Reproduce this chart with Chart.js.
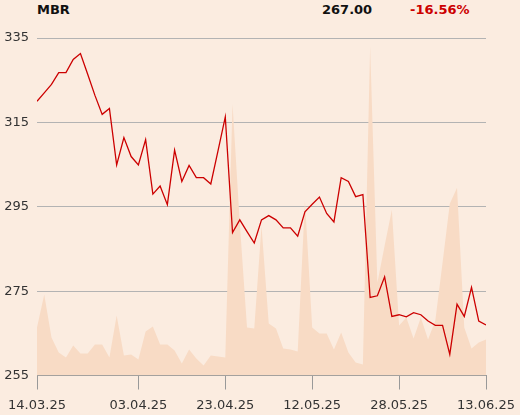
<!DOCTYPE html>
<html>
<head>
<meta charset="utf-8">
<script src="https://cdn.jsdelivr.net/npm/chart.js@4/dist/chart.umd.min.js"></script>
<style>
  html, body { margin: 0; padding: 0; background: #fbece0; }
  #wrap { position: relative; width: 520px; height: 415px; overflow: hidden; }
  .hdr { position: absolute; top: 2px; font: bold 13px "DejaVu Sans", sans-serif; color: #111; white-space: nowrap; }
  #name { left: 37px; }
  #last { left: 322px; }
  #chg { left: 410px; color: #cc0000; }
  canvas { position: absolute; left: 0; top: 0; }
</style>
</head>
<body>
<div id="wrap">
  <div class="hdr" id="name">MBR</div>
  <div class="hdr" id="last">267.00</div>
  <div class="hdr" id="chg">-16.56%</div>
  <canvas id="chart" width="520" height="415"></canvas>
</div>
<script>
// Trading days 14.03.25 .. 13.06.25 (index 0..62)
const tickIndex = [0, 14, 26, 38, 50, 62];
const tickLabels = ['14.03.25', '03.04.25', '23.04.25', '12.05.25', '28.05.25', '13.06.25'];

const priceTicks = [255, 275, 295, 315, 335];

// closing price
const price = [
    320.0, 322.0, 324.0, 326.8, 326.8, 329.9, 331.3, 326.4, 321.4, 316.9,
    318.3, 304.9, 311.4, 306.9, 304.9, 310.9, 298.0, 299.9, 295.5, 308.4,
    301.0, 304.8, 301.9, 301.9, 300.4, 308.3, 316.3, 288.9, 291.9, 289.1,
    286.4, 291.9, 292.9, 291.9, 290.0, 290.0, 288.0, 293.8, 295.6, 297.3,
    293.4, 291.4, 301.9, 301.0, 297.4, 297.9, 273.5, 273.9, 278.4, 269.0,
    269.4, 268.9, 269.9, 269.4, 267.9, 266.9, 266.9, 260.0, 271.9, 269.0,
    275.9, 267.9, 267.0
];

// traded volume (relative units)
const volume = [
    48, 81, 38, 23, 18, 30, 22, 22, 31, 31,
    18, 60, 20, 21, 16, 44, 49, 31, 31, 25,
    12, 26, 17, 10, 20, 19, 18, 272, 153, 48,
    47, 150, 52, 47, 27, 26, 24, 175, 48, 42,
    42, 26, 43, 23, 13, 11, 330, 93, 130, 166,
    50, 58, 37, 58, 36, 55, 113, 172, 188, 48,
    27, 33, 36
];
const volumeMax = 338;

const ctx = document.getElementById('chart');
const font = { family: '"DejaVu Sans", sans-serif', size: 13 };

new Chart(ctx, {
    type: 'line',
    data: {
        datasets: [
            {
                label: 'MBR',
                data: price.map((v, i) => ({ x: i, y: v })),
                borderColor: '#cc0000',
                borderWidth: 1.3,
                pointRadius: 0,
                tension: 0,
                yAxisID: 'y',
                order: 0
            },
            {
                label: 'Volume',
                data: volume.map((v, i) => ({ x: i, y: v })),
                backgroundColor: '#f8dbc5',
                borderWidth: 0,
                pointRadius: 0,
                fill: 'origin',
                tension: 0,
                yAxisID: 'vol',
                order: 1
            }
        ]
    },
    options: {
        responsive: false,
        animation: false,
        layout: { padding: { top: 38, right: 34, left: 0, bottom: 0 } },
        plugins: { legend: { display: false }, tooltip: { enabled: false } },
        scales: {
            x: {
                type: 'linear',
                min: 0,
                max: 62,
                afterBuildTicks: scale => { scale.ticks = tickIndex.map(v => ({ value: v })); },
                afterFit: scale => {
                    scale.height = 39.5;
                    // labels may hang over the edges, keep chart area fixed
                    scale.paddingLeft = 0;
                    scale.paddingRight = 0;
                },
                ticks: {
                    autoSkip: false,
                    maxRotation: 0,
                    padding: 8,
                    color: '#333',
                    font: font,
                    callback: v => tickLabels[tickIndex.indexOf(v)]
                },
                grid: { drawOnChartArea: false, drawTicks: true, tickLength: 14, color: '#999' },
                border: { display: true, color: '#999' }
            },
            y: {
                min: 255,
                max: 335,
                afterBuildTicks: scale => { scale.ticks = priceTicks.map(v => ({ value: v })); },
                afterFit: scale => { scale.width = 37; },
                ticks: { padding: 8, color: '#333', font: font },
                grid: { drawTicks: false, color: '#b3b3b3' },
                border: { display: false }
            },
            vol: {
                display: false,
                min: 0,
                max: volumeMax
            }
        }
    }
});
</script>
</body>
</html>
